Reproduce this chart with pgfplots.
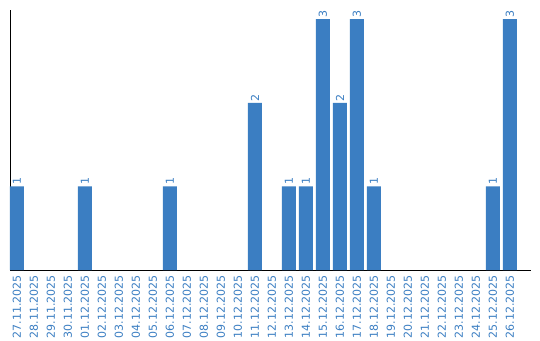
\documentclass[border=0pt]{standalone}
\usepackage{fontspec}
\setmainfont{DejaVu Sans}
\usepackage{pgfplots}
\pgfplotsset{compat=1.18}
\definecolor{barblue}{RGB}{59,126,194}
\begin{document}
\begin{tikzpicture}
\path[use as bounding box] (-10pt,-70pt) rectangle (530pt,270pt);
\begin{axis}[
  scale only axis,
  width=521pt, height=260pt,
  xmin=-0.41, xmax=30.24,
  ymin=0, ymax=3.11,
  axis x line=bottom, axis y line=left,
  axis line style={-, black, line width=0.9pt},
  ytick=\empty,
  xtick={0,...,29},
  xticklabels={27.11.2025,28.11.2025,29.11.2025,30.11.2025,01.12.2025,02.12.2025,03.12.2025,04.12.2025,05.12.2025,06.12.2025,07.12.2025,08.12.2025,09.12.2025,10.12.2025,11.12.2025,12.12.2025,13.12.2025,14.12.2025,15.12.2025,16.12.2025,17.12.2025,18.12.2025,19.12.2025,20.12.2025,21.12.2025,22.12.2025,23.12.2025,24.12.2025,25.12.2025,26.12.2025},
  major tick length=0pt,
  xticklabel style={rotate=90, anchor=east, text=barblue, font=\fontsize{11}{12}\selectfont, inner sep=0pt, xshift=-5pt},
  /pgf/number format/assume math mode=true,
  clip=false,
]
\addplot[ybar, bar width=14pt, fill=barblue, draw=none,
  nodes near coords,
  every node near coord/.append style={rotate=90, anchor=west, text=barblue, font=\fontsize{11}{12}\selectfont, inner sep=1.5pt}]
  coordinates {(0,1) (4,1) (9,1) (14,2) (16,1) (17,1) (18,3) (19,2) (20,3) (21,1) (28,1) (29,3)};
\end{axis}
\end{tikzpicture}
\end{document}
